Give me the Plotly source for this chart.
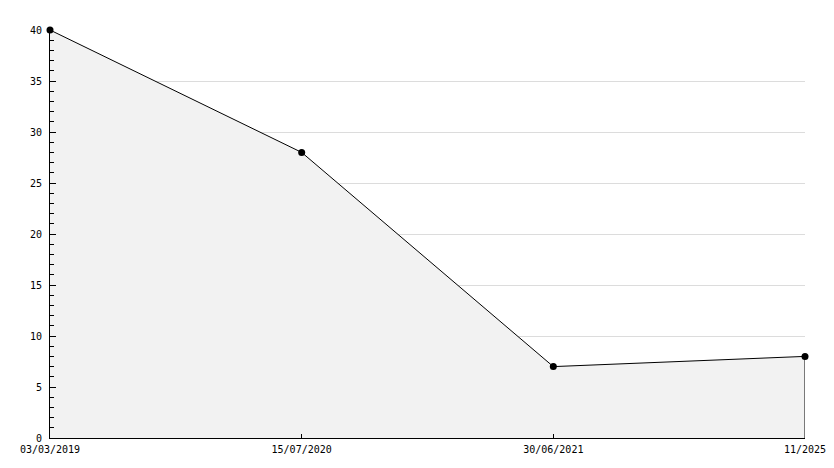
import plotly.graph_objects as go

dates = ['03/03/2019', '15/07/2020', '30/06/2021', '11/2025']
values = [40, 28, 7, 8]

fig = go.Figure()

# filled area with line and markers
fig.add_trace(go.Scatter(
    x=dates, y=values,
    mode='lines+markers',
    fill='tozeroy',
    fillcolor='#f2f2f2',
    line=dict(color='black', width=1),
    marker=dict(color='black', size=7, symbol='circle'),
    cliponaxis=False,
    hoverinfo='skip',
))

# right edge of the filled polygon
fig.add_trace(go.Scatter(
    x=[dates[-1], dates[-1]], y=[0, values[-1]],
    mode='lines',
    line=dict(color='black', width=1),
    hoverinfo='skip',
))

# page body adds an 8px offset, so the figure is a bit smaller
fig.update_layout(
    width=818, height=452,
    showlegend=False,
    paper_bgcolor='white',
    plot_bgcolor='white',
    margin=dict(l=42, r=21, t=22, b=22, autoexpand=False),
    font=dict(family='DejaVu Sans Mono', size=10, color='black'),
    xaxis=dict(
        type='category',
        range=[0, len(dates) - 1],
        showgrid=False,
        showline=True, linecolor='black', linewidth=1,
        ticks='inside', ticklen=4, tickcolor='black',
        ticklabelstandoff=2,
        zeroline=False,
    ),
    yaxis=dict(
        range=[0, 40],
        dtick=5,
        showgrid=True, gridcolor='#dcdcdc', gridwidth=1,
        showline=True, linecolor='black', linewidth=1,
        ticks='inside', ticklen=6, tickcolor='black',
        ticklabelstandoff=5,
        minor=dict(dtick=1, ticks='inside', ticklen=4, tickcolor='black', showgrid=False),
        zeroline=False,
    ),
)

fig.write_html("out.html")
